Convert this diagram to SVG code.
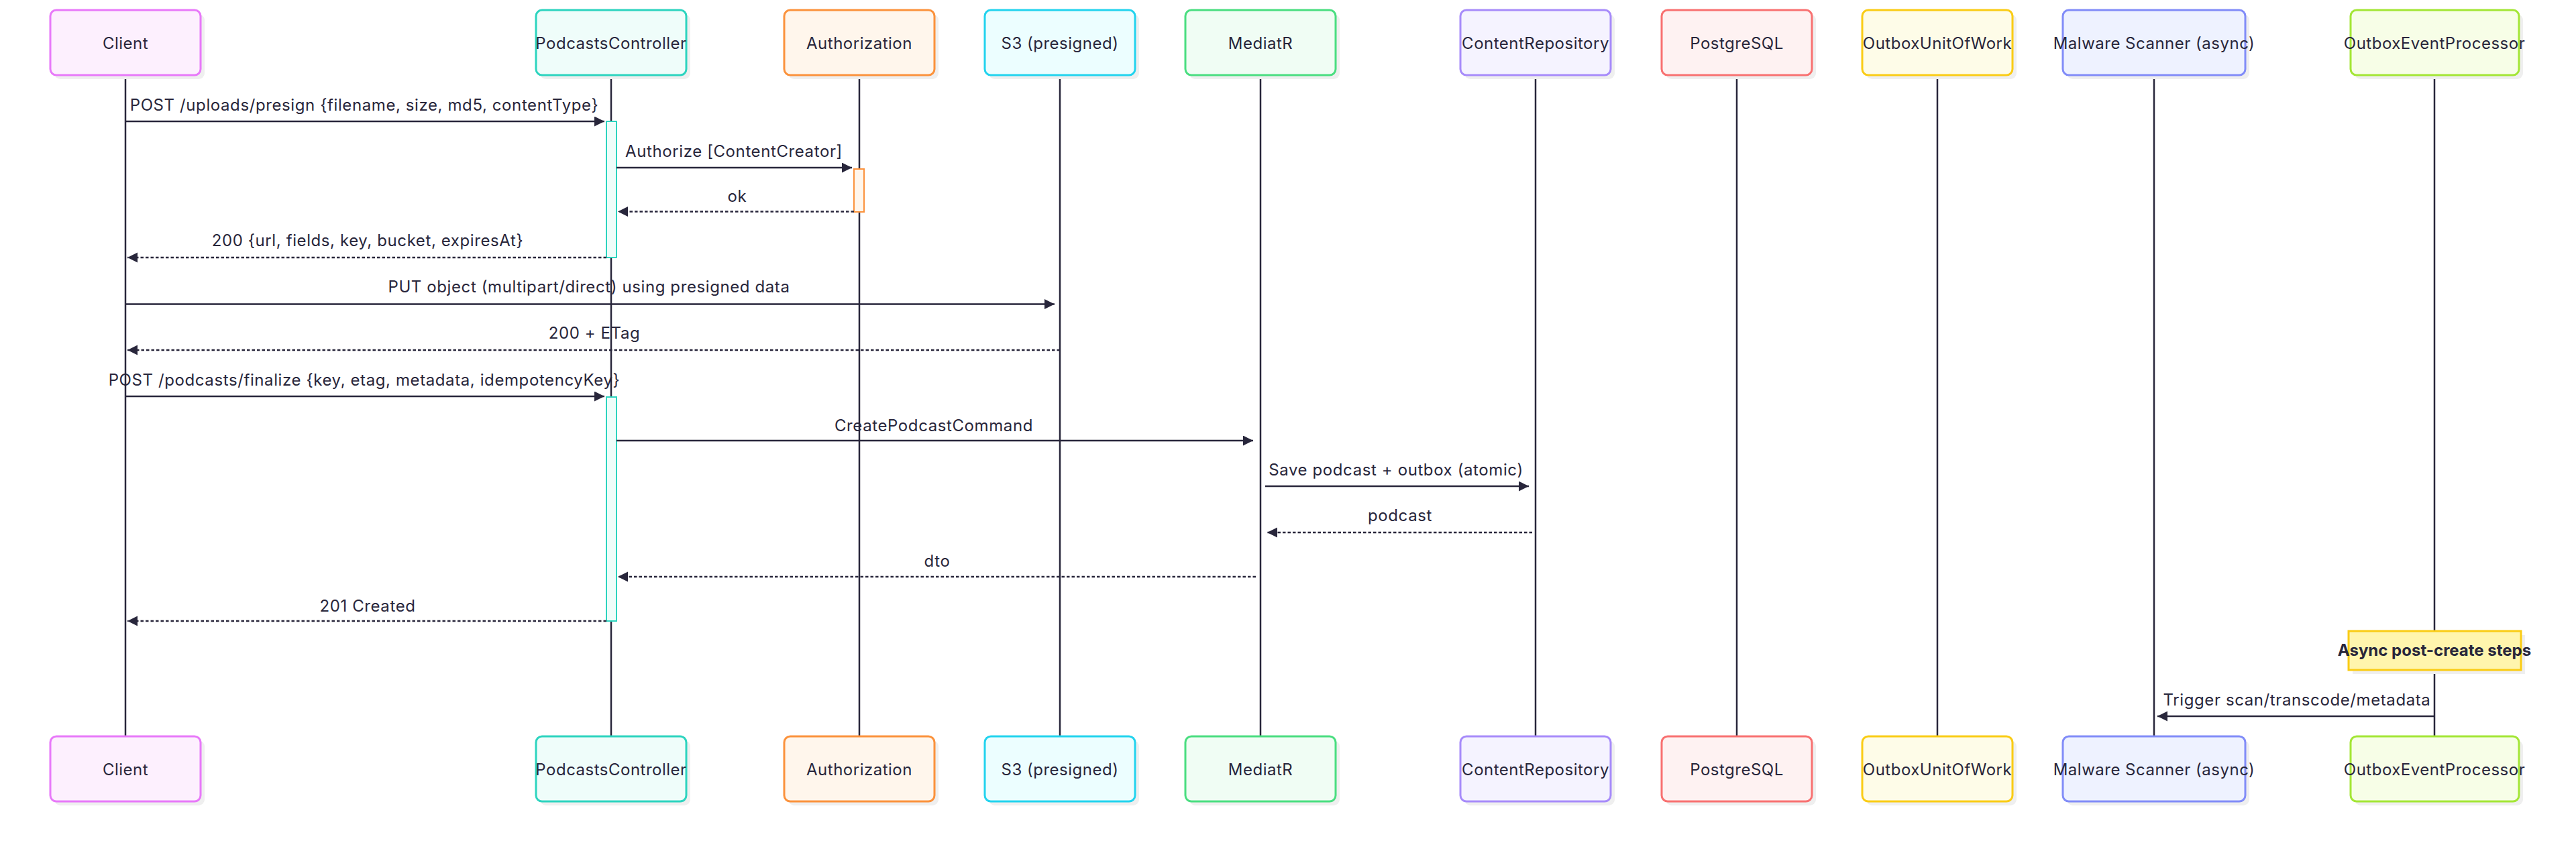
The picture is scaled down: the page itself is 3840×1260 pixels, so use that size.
<svg xmlns="http://www.w3.org/2000/svg" width="3840" height="1260" viewBox="0 0 3840 1260">
<style>
.bg{fill:#ffffff}
.shadow{fill:#efefef}
.actor{stroke-width:3}
.lbl{font-family:Inter,"Liberation Sans",sans-serif;font-size:24px;letter-spacing:0.5px;fill:#28263b;text-anchor:middle;dominant-baseline:central}
.msg{font-family:Inter,"Liberation Sans",sans-serif;font-size:24px;letter-spacing:0.6px;fill:#28263b;text-anchor:middle}
.note{font-family:Inter,"Liberation Sans",sans-serif;font-size:24px;font-weight:bold;fill:#28263b;text-anchor:middle}
.life{stroke:#28263b;stroke-width:2.5}
.solid{stroke:#28263b;stroke-width:2.5;fill:none;marker-end:url(#arrow)}
.dash{stroke:#28263b;stroke-width:2.5;fill:none;stroke-dasharray:4.5 3;marker-end:url(#arrow)}
.act{stroke-width:2}
</style>
<defs>
<marker id="arrow" markerUnits="userSpaceOnUse" markerWidth="16" markerHeight="16" refX="15" refY="7.5" orient="auto">
<path d="M0,0 L15,7.5 L0,15 z" fill="#28263b"/>
</marker>
</defs>
<rect class="bg" x="0" y="0" width="3840" height="1260"/>

<g id="lifelines">
<line class="life" x1="187" y1="112" x2="187" y2="1098"/>
<line class="life" x1="911" y1="112" x2="911" y2="1098"/>
<line class="life" x1="1281" y1="112" x2="1281" y2="1098"/>
<line class="life" x1="1580" y1="112" x2="1580" y2="1098"/>
<line class="life" x1="1879" y1="112" x2="1879" y2="1098"/>
<line class="life" x1="2289" y1="112" x2="2289" y2="1098"/>
<line class="life" x1="2589" y1="112" x2="2589" y2="1098"/>
<line class="life" x1="2888" y1="112" x2="2888" y2="1098"/>
<line class="life" x1="3211" y1="112" x2="3211" y2="1098"/>
<line class="life" x1="3629" y1="112" x2="3629" y2="1098"/>
</g>

<g id="client">
<rect class="shadow" x="81" y="21" width="224" height="97" rx="9"/>
<rect class="actor" x="75" y="15" width="224" height="97" rx="9" fill="#fdf0fe" stroke="#e879f9"/>
<text class="lbl" x="187" y="64">Client</text>
<rect class="shadow" x="81" y="1104" width="224" height="97" rx="9"/>
<rect class="actor" x="75" y="1098" width="224" height="97" rx="9" fill="#fdf0fe" stroke="#e879f9"/>
<text class="lbl" x="187" y="1147">Client</text>
</g>

<g id="podcastscontroller">
<rect class="shadow" x="805" y="21" width="224" height="97" rx="9"/>
<rect class="actor" x="799" y="15" width="224" height="97" rx="9" fill="#effdfa" stroke="#2dd4bf"/>
<text class="lbl" x="911" y="64">PodcastsController</text>
<rect class="shadow" x="805" y="1104" width="224" height="97" rx="9"/>
<rect class="actor" x="799" y="1098" width="224" height="97" rx="9" fill="#effdfa" stroke="#2dd4bf"/>
<text class="lbl" x="911" y="1147">PodcastsController</text>
</g>

<g id="authorization">
<rect class="shadow" x="1175" y="21" width="224" height="97" rx="9"/>
<rect class="actor" x="1169" y="15" width="224" height="97" rx="9" fill="#fff6ec" stroke="#fb923c"/>
<text class="lbl" x="1281" y="64">Authorization</text>
<rect class="shadow" x="1175" y="1104" width="224" height="97" rx="9"/>
<rect class="actor" x="1169" y="1098" width="224" height="97" rx="9" fill="#fff6ec" stroke="#fb923c"/>
<text class="lbl" x="1281" y="1147">Authorization</text>
</g>

<g id="s3">
<rect class="shadow" x="1474" y="21" width="224" height="97" rx="9"/>
<rect class="actor" x="1468" y="15" width="224" height="97" rx="9" fill="#ecfeff" stroke="#22d3ee"/>
<text class="lbl" x="1580" y="64">S3 (presigned)</text>
<rect class="shadow" x="1474" y="1104" width="224" height="97" rx="9"/>
<rect class="actor" x="1468" y="1098" width="224" height="97" rx="9" fill="#ecfeff" stroke="#22d3ee"/>
<text class="lbl" x="1580" y="1147">S3 (presigned)</text>
</g>

<g id="mediatr">
<rect class="shadow" x="1773" y="21" width="224" height="97" rx="9"/>
<rect class="actor" x="1767" y="15" width="224" height="97" rx="9" fill="#f0fdf4" stroke="#4ade80"/>
<text class="lbl" x="1879" y="64">MediatR</text>
<rect class="shadow" x="1773" y="1104" width="224" height="97" rx="9"/>
<rect class="actor" x="1767" y="1098" width="224" height="97" rx="9" fill="#f0fdf4" stroke="#4ade80"/>
<text class="lbl" x="1879" y="1147">MediatR</text>
</g>

<g id="contentrepository">
<rect class="shadow" x="2183" y="21" width="224" height="97" rx="9"/>
<rect class="actor" x="2177" y="15" width="224" height="97" rx="9" fill="#f5f3ff" stroke="#a78bfa"/>
<text class="lbl" x="2289" y="64">ContentRepository</text>
<rect class="shadow" x="2183" y="1104" width="224" height="97" rx="9"/>
<rect class="actor" x="2177" y="1098" width="224" height="97" rx="9" fill="#f5f3ff" stroke="#a78bfa"/>
<text class="lbl" x="2289" y="1147">ContentRepository</text>
</g>

<g id="postgresql">
<rect class="shadow" x="2483" y="21" width="224" height="97" rx="9"/>
<rect class="actor" x="2477" y="15" width="224" height="97" rx="9" fill="#fef2f2" stroke="#f87171"/>
<text class="lbl" x="2589" y="64">PostgreSQL</text>
<rect class="shadow" x="2483" y="1104" width="224" height="97" rx="9"/>
<rect class="actor" x="2477" y="1098" width="224" height="97" rx="9" fill="#fef2f2" stroke="#f87171"/>
<text class="lbl" x="2589" y="1147">PostgreSQL</text>
</g>

<g id="outboxunitofwork">
<rect class="shadow" x="2782" y="21" width="224" height="97" rx="9"/>
<rect class="actor" x="2776" y="15" width="224" height="97" rx="9" fill="#fefce8" stroke="#facc15"/>
<text class="lbl" x="2888" y="64">OutboxUnitOfWork</text>
<rect class="shadow" x="2782" y="1104" width="224" height="97" rx="9"/>
<rect class="actor" x="2776" y="1098" width="224" height="97" rx="9" fill="#fefce8" stroke="#facc15"/>
<text class="lbl" x="2888" y="1147">OutboxUnitOfWork</text>
</g>

<g id="malwarescanner">
<rect class="shadow" x="3081" y="21" width="272" height="97" rx="9"/>
<rect class="actor" x="3075" y="15" width="272" height="97" rx="9" fill="#eef2ff" stroke="#818cf8"/>
<text class="lbl" x="3211" y="64">Malware Scanner (async)</text>
<rect class="shadow" x="3081" y="1104" width="272" height="97" rx="9"/>
<rect class="actor" x="3075" y="1098" width="272" height="97" rx="9" fill="#eef2ff" stroke="#818cf8"/>
<text class="lbl" x="3211" y="1147">Malware Scanner (async)</text>
</g>

<g id="outboxeventprocessor">
<rect class="shadow" x="3510" y="21" width="251" height="97" rx="9"/>
<rect class="actor" x="3504" y="15" width="251" height="97" rx="9" fill="#f7fee7" stroke="#a3e635"/>
<text class="lbl" x="3629" y="64">OutboxEventProcessor</text>
<rect class="shadow" x="3510" y="1104" width="251" height="97" rx="9"/>
<rect class="actor" x="3504" y="1098" width="251" height="97" rx="9" fill="#f7fee7" stroke="#a3e635"/>
<text class="lbl" x="3629" y="1147">OutboxEventProcessor</text>
</g>

<g id="activations">
<rect class="act" x="904" y="181" width="15" height="203" fill="#effdfa" stroke="#2dd4bf"/>
<rect class="act" x="1273" y="252" width="15" height="64" fill="#fff6ec" stroke="#fb923c"/>
<rect class="act" x="904" y="592" width="15" height="334" fill="#effdfa" stroke="#2dd4bf"/>
</g>

<g id="connectors">
<line class="solid" x1="188" y1="181" x2="901" y2="181"/>
<text class="msg" x="543" y="165">POST /uploads/presign {filename, size, md5, contentType}</text>
<line class="solid" x1="919" y1="250" x2="1270" y2="250"/>
<text class="msg" x="1094" y="234">Authorize [ContentCreator]</text>
<line class="dash" x1="1273" y1="315.5" x2="921" y2="315.5"/>
<text class="msg" x="1099" y="301">ok</text>
<line class="dash" x1="904" y1="384" x2="190" y2="384"/>
<text class="msg" x="548" y="367">200 {url, fields, key, bucket, expiresAt}</text>
<line class="solid" x1="188" y1="453.5" x2="1572" y2="453.5"/>
<text class="msg" x="878" y="436">PUT object (multipart/direct) using presigned data</text>
<line class="dash" x1="1580" y1="522" x2="190" y2="522"/>
<text class="msg" x="886" y="505">200 + ETag</text>
<line class="solid" x1="188" y1="591" x2="901" y2="591"/>
<text class="msg" x="543" y="575">POST /podcasts/finalize {key, etag, metadata, idempotencyKey}</text>
<line class="solid" x1="919" y1="657" x2="1868" y2="657"/>
<text class="msg" x="1392" y="643">CreatePodcastCommand</text>
<line class="solid" x1="1886" y1="725" x2="2279" y2="725"/>
<text class="msg" x="2081" y="709">Save podcast + outbox (atomic)</text>
<line class="dash" x1="2284" y1="794" x2="1889" y2="794"/>
<text class="msg" x="2087" y="777">podcast</text>
<line class="dash" x1="1872" y1="860" x2="921" y2="860"/>
<text class="msg" x="1397" y="845">dto</text>
<line class="dash" x1="904" y1="926" x2="190" y2="926"/>
<text class="msg" x="548" y="912">201 Created</text>
<line class="solid" x1="3629" y1="1068" x2="3216" y2="1068"/>
<text class="msg" x="3424" y="1052">Trigger scan/transcode/metadata</text>
</g>

<g id="note-async">
<rect class="shadow" x="3507" y="947" width="257" height="58"/>
<rect x="3501" y="941" width="257" height="58" fill="#fff5ad" stroke="#facc15" stroke-width="3"/>
<text class="note" x="3629" y="978">Async post-create steps</text>
</g>
</svg>
